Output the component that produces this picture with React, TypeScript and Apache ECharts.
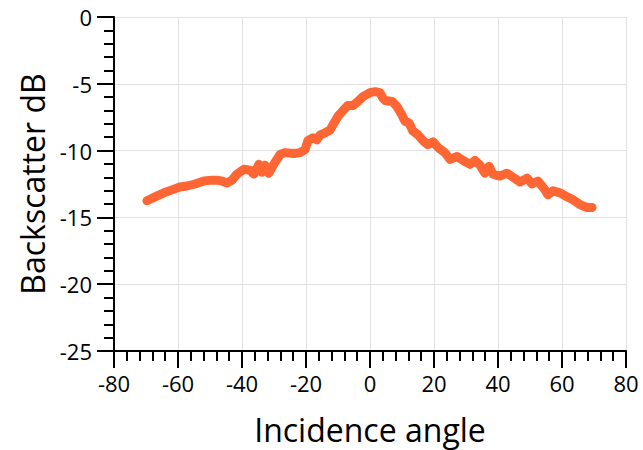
import React, { useEffect, useRef } from "react";
import * as echarts from "echarts";

const angles = [
  -69.7, -67.2, -64.4, -61.9, -59.4, -57.2, -54.7, -51.9, -49.4, -47.7, -46.3, -44.7, -43.1, -41.6,
  -39.4, -37.5, -36.3, -34.7, -33.8, -32.8, -31.6, -30.6, -29.7, -28.1, -26.6, -23.8, -21.9, -20.3,
  -19.4, -17.8, -16.6, -15.6, -14.1, -12.5, -11.6, -10.0, -8.4, -6.9, -5.3, -3.8, -2.2, 0, 1.6, 3.1,
  4.1, 4.7, 6.9, 8.4, 10.0, 10.9, 12.2, 13.4, 15.0, 16.6, 18.1, 19.7, 21.3, 23.4, 25.0, 27.2, 29.1,
  31.3, 32.8, 34.4, 35.9, 37.2, 38.4, 40.6, 42.8, 44.7, 46.9, 49.1, 50.6, 52.5, 54.7, 55.6, 57.2,
  59.4, 61.6, 63.4, 65.6, 67.8, 69.4,
];

const backscatter = [
  -13.75, -13.46, -13.16, -12.94, -12.72, -12.65, -12.5, -12.28, -12.21, -12.21, -12.28, -12.43,
  -12.21, -11.76, -11.4, -11.47, -11.76, -11.03, -11.62, -11.1, -11.69, -11.25, -10.88, -10.29,
  -10.15, -10.22, -10.15, -9.93, -9.26, -9.04, -9.19, -8.82, -8.68, -8.46, -8.09, -7.43, -6.99,
  -6.62, -6.62, -6.32, -5.96, -5.66, -5.59, -5.66, -6.1, -6.25, -6.32, -6.69, -7.35, -7.79, -7.94,
  -8.53, -8.82, -9.26, -9.56, -9.34, -9.78, -10.15, -10.66, -10.44, -10.74, -11.03, -10.74, -11.1,
  -11.69, -11.18, -11.76, -11.91, -11.69, -11.99, -12.35, -12.06, -12.5, -12.28, -12.94, -13.31,
  -13.01, -13.16, -13.46, -13.68, -14.04, -14.26, -14.26,
];

const xTitle = "Incidence angle";
const yTitle = "Backscatter dB";

export default function App() {
  const ref = useRef<HTMLDivElement>(null);
  useEffect(() => {
    if (!ref.current) return;
    const chart = echarts.init(ref.current, undefined, { renderer: "svg" });
    const font = "'Open Sans', sans-serif";
    const axisCommon = {
      axisLine: { show: true, onZero: false, lineStyle: { color: "#000", width: 2 } },
      axisTick: { show: true, inside: false, length: 17, lineStyle: { color: "#000", width: 2 } },
      minorTick: { show: true, splitNumber: 5, length: 10, lineStyle: { color: "#000", width: 2 } },
      splitLine: { show: true, lineStyle: { color: "#e2e2e2", width: 1 } },
      axisLabel: { color: "#000", fontSize: 22, fontFamily: font },
      nameTextStyle: { color: "#000", fontSize: 32, fontFamily: font },
    };
    chart.setOption({
      animation: false,
      backgroundColor: "#fff",
      grid: { left: 114, right: 17, top: 17, bottom: 93, containLabel: false },
      xAxis: {
        type: "value",
        min: -80,
        max: 80,
        interval: 20,
        name: xTitle,
        nameLocation: "middle",
        nameGap: 62,
        ...axisCommon,
        axisLabel: { ...axisCommon.axisLabel, margin: 21 },
      },
      yAxis: {
        type: "value",
        min: -25,
        max: 0,
        interval: 5,
        name: yTitle,
        nameLocation: "middle",
        nameGap: 66,
        ...axisCommon,
        axisLabel: { ...axisCommon.axisLabel, margin: 22 },
      },
      series: [
        {
          type: "line",
          data: angles.map((a, i) => [a, backscatter[i]]),
          showSymbol: false,
          symbol: "none",
          lineStyle: { color: "#ff6633", width: 9, cap: "round", join: "round" },
        },
      ],
    });
    return () => chart.dispose();
  }, []);
  return <div ref={ref} style={{ width: 643, height: 450, position: "absolute", left: 0, top: 0 }} />;
}
